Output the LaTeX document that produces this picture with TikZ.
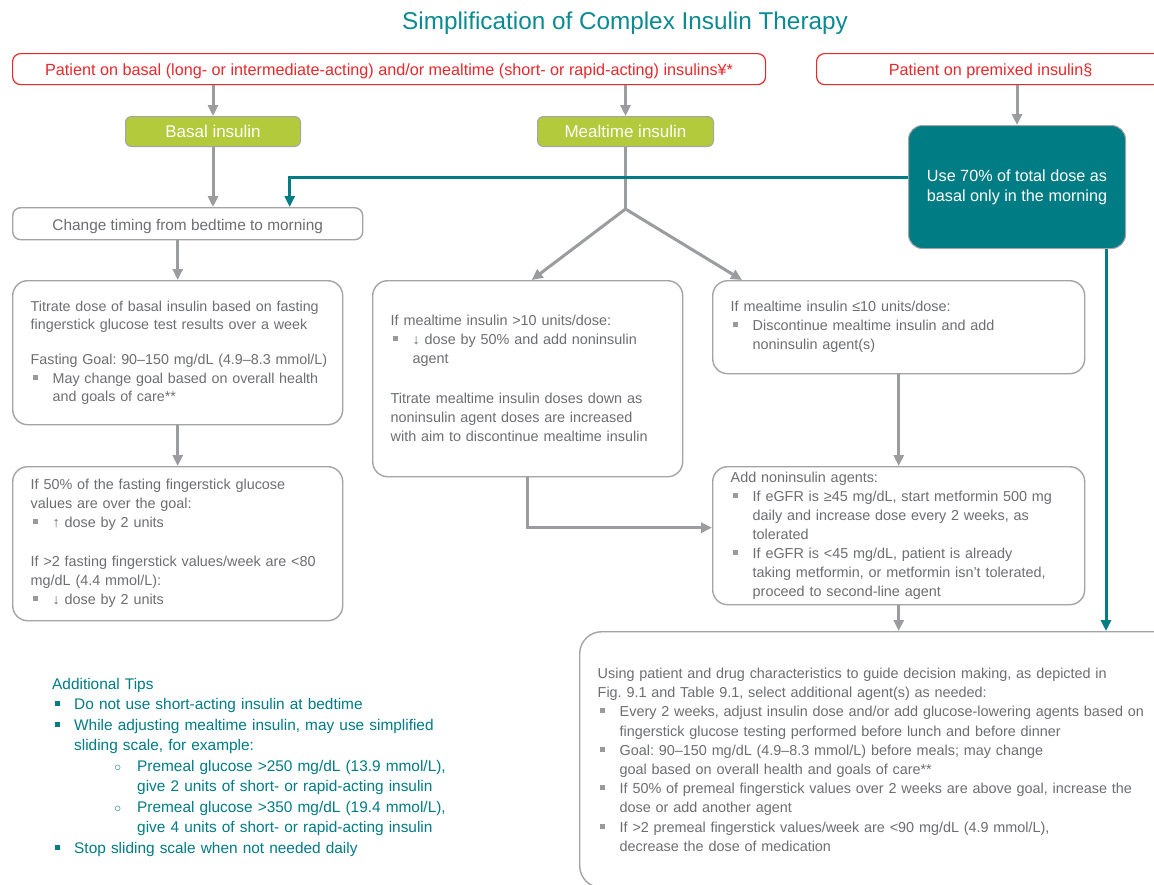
\documentclass[tikz,border=0pt]{standalone}
\usepackage{fontspec}
\setmainfont{Liberation Sans}
\usetikzlibrary{arrows.meta,positioning,calc}
\definecolor{tealc}{HTML}{007C85}
\definecolor{titlec}{HTML}{0A8A92}
\definecolor{redc}{HTML}{E8282C}
\definecolor{greenc}{HTML}{B3CA3C}
\definecolor{txgray}{HTML}{6D6E71}
\definecolor{lngray}{HTML}{A3A4A7}
\definecolor{argray}{HTML}{9B9C9F}
\definecolor{bulgray}{HTML}{9A9A9A}
\frenchspacing
\newcommand\itm[2][bulgray]{\par\hangindent=22pt\hangafter=1\noindent\makebox[22pt][l]{\hspace{2.5pt}\textcolor{#1}{\rule[3.5pt]{5pt}{5pt}}}#2\par}
\newcommand\subitm[1]{\par\hangindent=85pt\hangafter=1\noindent\makebox[85pt][l]{\hspace{62pt}{\fontsize{12}{12}\selectfont ○}}#1\par}
\begin{document}
\begin{tikzpicture}[x=1pt,y=-1pt,
  redbox/.style={draw=redc,line width=1.2pt,rounded corners=8pt,text=redc,anchor=north west,inner sep=0pt,minimum height=31pt,font=\fontsize{16.2}{19}\selectfont},
  greenbox/.style={draw=lngray,line width=1pt,fill=greenc,rounded corners=6pt,text=white,anchor=north west,inner sep=0pt,minimum height=30pt,font=\fontsize{17}{20}\selectfont},
  box/.style={draw=lngray,line width=1.4pt,rounded corners=15pt,text=txgray,anchor=north west,inner xsep=18pt,inner ysep=0pt,align=left,font=\fontsize{14.4}{19}\selectfont},
  garrow/.style={draw=argray,line width=3pt,-{Triangle[length=11pt,width=10pt]}},
  tarrow/.style={draw=tealc,line width=3pt,-{Triangle[length=11pt,width=10pt]}}]
\useasboundingbox (0,0) rectangle (1154,884);
\fill[white] (0,0) rectangle (1154,884);
\clip (0,0) rectangle (1154,884);

\node[text=titlec,font=\fontsize{24.3}{28}\selectfont] (title) at (625,23) {Simplification of Complex Insulin Therapy};

\node[redbox,minimum width=753pt,text height=14pt,text depth=1pt] (patbm) at (12,53) {Patient on basal (long- or intermediate-acting) and/or mealtime (short- or rapid-acting) insulins¥*};
\node[redbox,minimum width=348pt,text height=14pt,text depth=1pt] (patpm) at (816,53) {Patient on premixed insulin§};

\node[greenbox,minimum width=175pt] (basal) at (125,116) {Basal insulin};
\node[greenbox,minimum width=176pt] (meal) at (537,116) {Mealtime insulin};

\node[draw=lngray,line width=1pt,fill=tealc,rounded corners=14pt,text=white,anchor=north west,minimum width=217pt,minimum height=123pt,inner sep=0pt,align=center,font=\fontsize{16.2}{20}\selectfont] (premix) at (908,125) {Use 70\% of total dose as\\basal only in the morning};

\node[box,inner xsep=0pt,minimum width=350pt,minimum height=32pt,rounded corners=8pt,text height=14pt,text depth=0pt,font=\fontsize{15.4}{19}\selectfont] (change) at (12,207) {Change timing from bedtime to morning};

\node[box,text width=294pt,minimum height=144pt,font=\fontsize{14.3}{18.5}\selectfont] (titrate) at (12,280) {Titrate dose of basal insulin based on fasting\newline fingerstick glucose test results over a week\par\vspace{16.5pt}
\mbox{Fasting Goal: 90–150 mg/dL (4.9–8.3 mmol/L)}
\itm{May change goal based on overall health\newline and goals of care**}};

\node[box,text width=294pt,minimum height=154pt] (ifhalf) at (12,466) {If 50\% of the fasting fingerstick glucose\newline values are over the goal:
\itm{↑ dose by 2 units}\vspace{20pt}
If >2 fasting fingerstick values/week are <80\newline mg/dL (4.4 mmol/L):
\itm{↓ dose by 2 units}};

\node[box,text width=274pt,minimum height=196pt] (gtten) at (372,280) {If mealtime insulin >10 units/dose:
\itm{↓ dose by 50\% and add noninsulin\newline agent}\vspace{21pt}
Titrate mealtime insulin doses down as\newline noninsulin agent doses are increased\newline with aim to discontinue mealtime insulin};

\node[box,text width=336pt,minimum height=93pt] (leten) at (712,280) {If mealtime insulin ≤10 units/dose:
\itm{Discontinue mealtime insulin and add\newline noninsulin agent(s)}};

\node[box,text width=336pt,minimum height=138pt] (addni) at (712,466) {Add noninsulin agents:
\itm{If eGFR is ≥45 mg/dL, start metformin 500 mg\newline daily and increase dose every 2 weeks, as\newline tolerated}
\itm{If eGFR is <45 mg/dL, patient is already\newline taking metformin, or metformin isn't tolerated,\newline proceed to second-line agent}};

\node[box,text width=560pt,minimum height=256pt,rounded corners=22pt,font=\fontsize{14.4}{19.2}\selectfont] (final) at (579,631) {Using patient and drug characteristics to guide decision making, as depicted in\newline Fig. 9.1 and Table 9.1, select additional agent(s) as needed:
\itm{Every 2 weeks, adjust insulin dose and/or add glucose-lowering agents based on\newline fingerstick glucose testing performed before lunch and before dinner}
\itm{Goal: 90–150 mg/dL (4.9–8.3 mmol/L) before meals; may change\newline goal based on overall health and goals of care**}
\itm{If 50\% of premeal fingerstick values over 2 weeks are above goal, increase the\newline dose or add another agent}
\itm{If >2 premeal fingerstick values/week are <90 mg/dL (4.9 mmol/L),\newline decrease the dose of medication}};

\node[anchor=north west,inner sep=0pt,text width=440pt,align=left,text=tealc,font=\fontsize{15.4}{20.5}\selectfont] (tips) at (52,678) {Additional Tips
\itm[tealc]{Do not use short-acting insulin at bedtime}
\itm[tealc]{While adjusting mealtime insulin, may use simplified\newline sliding scale, for example:}
\subitm{Premeal glucose >250 mg/dL (13.9 mmol/L),\newline give 2 units of short- or rapid-acting insulin}
\subitm{Premeal glucose >350 mg/dL (19.4 mmol/L),\newline give 4 units of short- or rapid-acting insulin}
\itm[tealc]{Stop sliding scale when not needed daily}};

\coordinate (split) at ($(meal.south)+(0,62)$);
\coordinate (tdown) at ([xshift=-20pt]premix.south east);

\draw[garrow] (basal.north |- patbm.south) -- (basal.north);
\draw[garrow] (meal.north |- patbm.south) -- (meal.north);
\draw[garrow] (premix.north |- patpm.south) -- (premix.north);
\draw[garrow] (basal.south) -- (basal.south |- change.north);
\draw[garrow] (change.south -| titrate.north) -- (titrate.north);
\draw[garrow] (titrate.south) -- (ifhalf.north);
\draw[draw=argray,line width=3pt] (meal.south) -- (split);
\draw[garrow] (split) -- ([xshift=4pt]gtten.north);
\draw[garrow] (split) -- ([xshift=30pt]leten.north west);
\draw[garrow] (leten.south) -- (addni.north);
\draw[garrow] (gtten.south) |- ([yshift=8pt]addni.west);
\draw[garrow] (addni.south) -- (addni.south |- final.north);
\draw[tarrow] ([yshift=9.5pt]premix.west) -| ([xshift=102pt]change.north);
\draw[tarrow] (tdown) -- (tdown |- final.north);
\end{tikzpicture}
\end{document}
